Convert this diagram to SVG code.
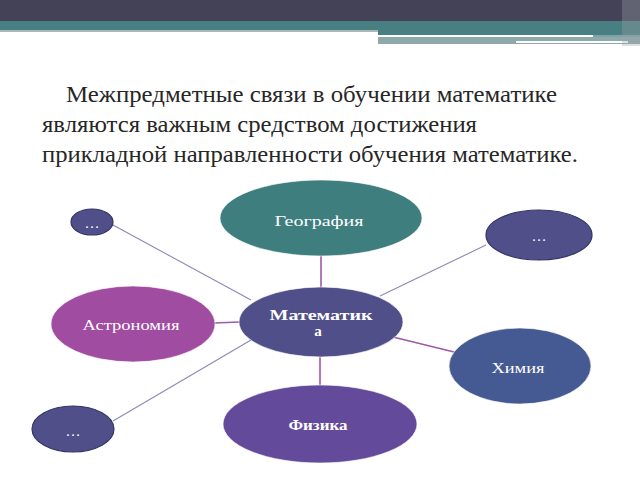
<svg xmlns="http://www.w3.org/2000/svg" width="640" height="480" viewBox="0 0 640 480">
<style>
.title{font-family:"Liberation Serif","DejaVu Serif",serif;font-size:23.5px;fill:#262626}
.lbl{font-family:"Liberation Serif","DejaVu Serif",serif;font-size:15px;fill:#ffffff;text-anchor:middle}
.b{font-weight:bold}
.node{stroke:#ffffff;stroke-opacity:0.6;stroke-width:1}
.dots{stroke:#343466;stroke-width:1.2}
.c1{stroke:#a058a8;stroke-width:1.6;fill:none}
.c2{stroke:#8c89b8;stroke-width:1.1;fill:none}
</style>
<rect x="0" y="0" width="640" height="480" fill="#ffffff"/>
<!-- header bars -->
<rect x="0" y="0" width="640" height="21" fill="#434256"/>
<rect x="0" y="21" width="640" height="9" fill="#477f82"/>
<rect x="0" y="30" width="378" height="2" fill="#a9b9ba"/>
<rect x="378" y="30" width="262" height="5" fill="#477f82"/>
<rect x="378" y="35" width="215" height="2" fill="#ffffff"/>
<rect x="593" y="35" width="47" height="2" fill="#7fa2a4"/>
<rect x="378" y="37" width="262" height="7" fill="#8fa9ab"/>
<rect x="516" y="41" width="112" height="2" fill="#ffffff"/>
<rect x="622" y="0" width="18" height="46" fill="#9aa0a6" opacity="0.35"/>
<!-- title -->
<text class="title" x="66" y="102" textLength="491" lengthAdjust="spacingAndGlyphs">Межпредметные связи в обучении математике</text>
<text class="title" x="42" y="132" textLength="435" lengthAdjust="spacingAndGlyphs">являются важным средством достижения</text>
<text class="title" x="42" y="162" textLength="536" lengthAdjust="spacingAndGlyphs">прикладной направленности обучения математике.</text>
<!-- connectors -->
<g id="connectors">
<line class="c1" x1="321" y1="256" x2="321" y2="288"/>
<line class="c1" x1="214" y1="323" x2="240" y2="322"/>
<line class="c1" x1="393" y1="337" x2="454" y2="352"/>
<line class="c1" x1="320" y1="356" x2="320" y2="386"/>
<line class="c2" x1="113" y1="225" x2="251" y2="300"/>
<line class="c2" x1="486" y1="245" x2="380" y2="296"/>
<line class="c2" x1="113" y1="421" x2="251" y2="340"/>
</g>
<g id="geography">
<ellipse class="node" cx="321" cy="218" rx="101" ry="38" fill="#3f7e7f"/>
<text class="lbl" x="319" y="226" textLength="89" lengthAdjust="spacingAndGlyphs">География</text>
</g>
<g id="math">
<ellipse class="node" cx="321" cy="322" rx="82" ry="35" fill="#504f89"/>
<text class="lbl b" x="321" y="320" font-size="16" textLength="103" lengthAdjust="spacingAndGlyphs">Математик</text>
<text class="lbl b" x="318" y="336" font-size="16">а</text>
</g>
<g id="dots-tl">
<ellipse class="dots" cx="92" cy="222" rx="21" ry="13" fill="#504f89"/>
<text class="lbl" x="92" y="228" font-size="13">…</text>
</g>
<g id="astronomy">
<ellipse class="node" cx="133" cy="324" rx="82" ry="38" fill="#a04ca1"/>
<text class="lbl" x="131" y="330" textLength="97" lengthAdjust="spacingAndGlyphs">Астрономия</text>
</g>
<g id="dots-tr">
<ellipse class="dots" cx="539" cy="235" rx="53" ry="25" fill="#504f89"/>
<text class="lbl" x="539" y="241" font-size="13">…</text>
</g>
<g id="chemistry">
<ellipse class="node" cx="520" cy="366" rx="71" ry="38" fill="#455a92"/>
<text class="lbl" x="518" y="373" textLength="53" lengthAdjust="spacingAndGlyphs">Химия</text>
</g>
<g id="physics">
<ellipse class="node" cx="320" cy="424" rx="97" ry="39" fill="#644a9a"/>
<text class="lbl b" x="318" y="430" font-size="14" textLength="59" lengthAdjust="spacingAndGlyphs">Физика</text>
</g>
<g id="dots-bl">
<ellipse class="dots" cx="73" cy="429" rx="41" ry="23" fill="#504f89"/>
<text class="lbl" x="73" y="436" font-size="13">…</text>
</g>
</svg>
